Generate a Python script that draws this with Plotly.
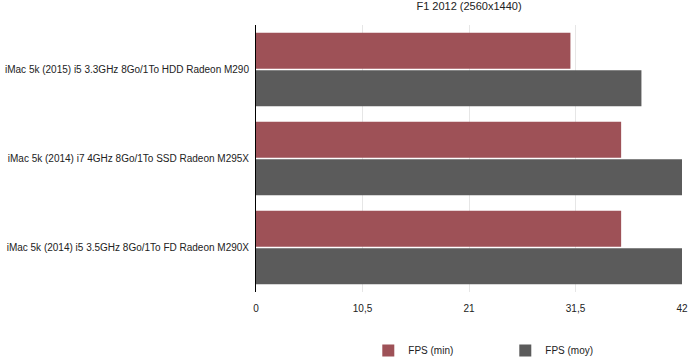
import plotly.graph_objects as go

categories = [
    "iMac 5k (2015) i5 3.3GHz 8Go/1To HDD Radeon M290",
    "iMac 5k (2014) i7 4GHz 8Go/1To SSD Radeon M295X",
    "iMac 5k (2014) i5 3.5GHz 8Go/1To FD Radeon M290X",
]
fps_min = [31, 36, 36]
fps_moy = [38, 42, 42]
tick_vals = [0, 10.5, 21, 31.5, 42]
tick_text = ["0", "10,5", "21", "31,5", "42"]

FONT = "Liberation Sans, Arial, sans-serif"

fig = go.Figure()
fig.add_trace(go.Bar(y=categories, x=fps_min, orientation="h", name="FPS (min)",
                     marker=dict(color="#9e5157", line=dict(width=0))))
fig.add_trace(go.Bar(y=categories, x=fps_moy, orientation="h", name="FPS (moy)",
                     marker=dict(color="#5b5b5b", line=dict(width=0))))

fig.update_layout(
    width=688, height=357,
    margin=dict(l=256, r=6, t=25, b=65, autoexpand=False),
    paper_bgcolor="white", plot_bgcolor="white",
    font=dict(family=FONT, size=10, color="#222"),
    title=dict(text="F1 2012 (2560x1440)", x=0.5, xanchor="center", xref="paper",
               y=0.995, yanchor="top",
               font=dict(family=FONT, size=11, color="#222")),
    barmode="group", bargap=0.157, bargroupgap=0.04,
    showlegend=True,
    legend=dict(orientation="h", x=0.2636, xanchor="left", y=-0.165, yanchor="top",
                font=dict(family=FONT, size=10, color="#222"),
                entrywidth=92, itemwidth=30),
    xaxis=dict(range=[0, 42], tickvals=tick_vals, ticktext=tick_text, automargin=False,
               showgrid=True, gridcolor="#e6e6e6", gridwidth=1, zeroline=False,
               showline=False, ticks="", ticklabelstandoff=9,
               tickfont=dict(family=FONT, size=10, color="#222")),
    yaxis=dict(autorange="reversed", showline=True, linecolor="black", linewidth=1,
               ticks="", showgrid=False, automargin=False, ticklabelstandoff=4,
               tickfont=dict(family=FONT, size=10, color="#222")),
)

fig.write_html("out.html", config={"displayModeBar": False},
               post_script="document.body.style.margin='0';")
